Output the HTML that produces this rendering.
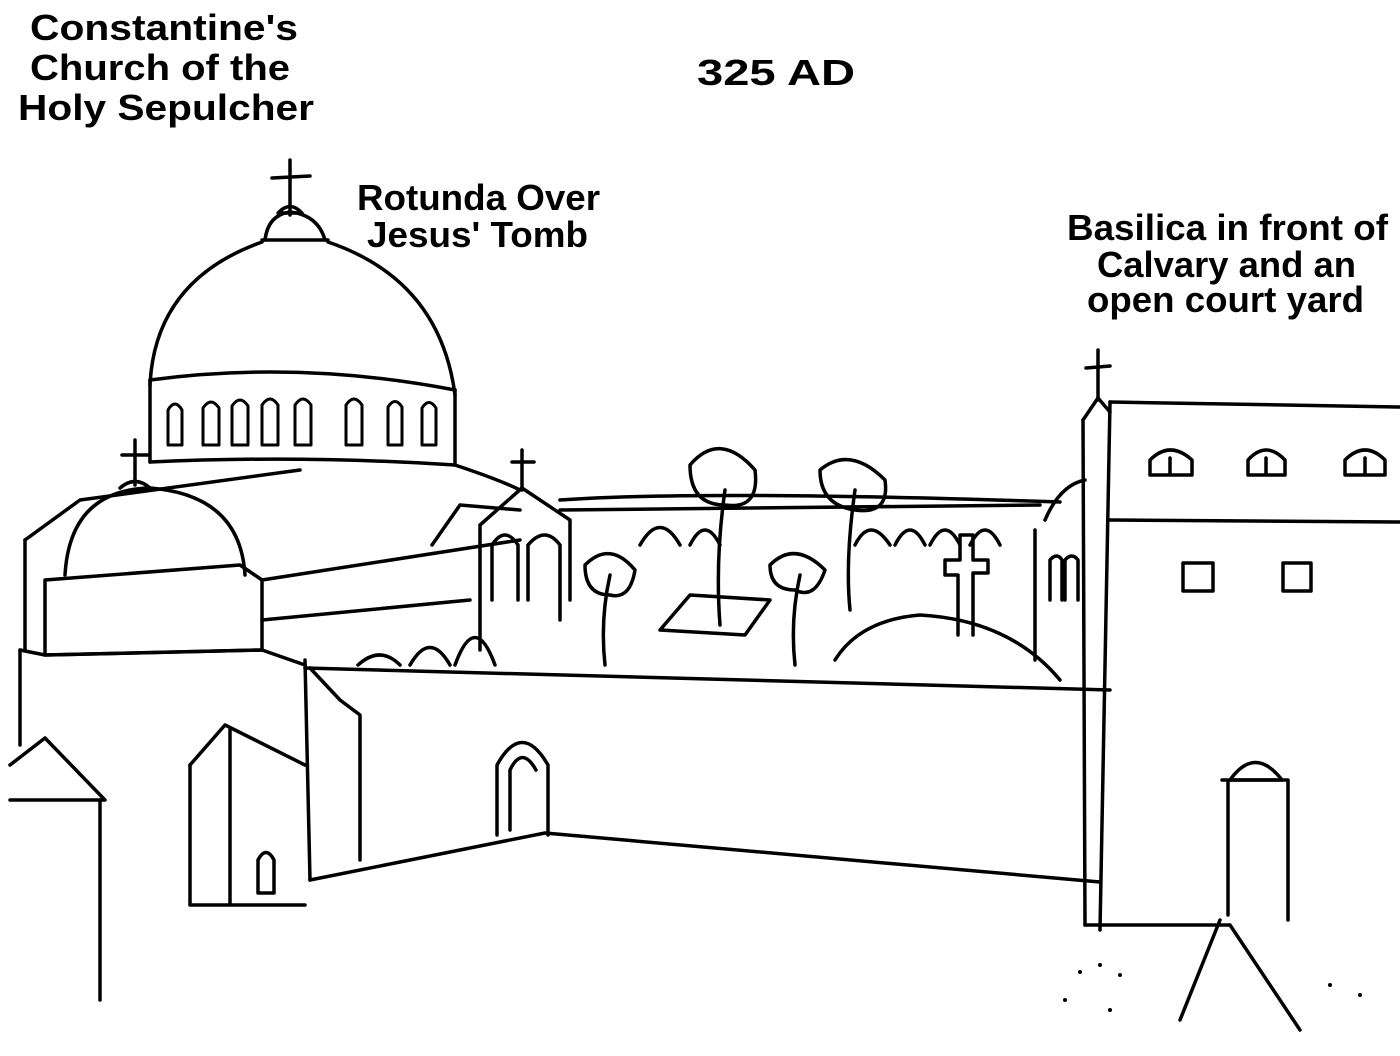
<!DOCTYPE html>
<html><head><meta charset="utf-8"><style>
html,body{margin:0;padding:0;background:#fff;}
svg{display:block;}
text{font-family:"Liberation Sans",sans-serif;font-weight:bold;font-size:36px;fill:#000;}
</style></head><body>
<svg width="1400" height="1056" viewBox="0 0 1400 1056" xmlns="http://www.w3.org/2000/svg">
<g>
<text x="30" y="40" textLength="268" lengthAdjust="spacingAndGlyphs">Constantine's</text>
<text x="30" y="80" textLength="260" lengthAdjust="spacingAndGlyphs">Church of the</text>
<text x="18" y="120" textLength="296" lengthAdjust="spacingAndGlyphs">Holy Sepulcher</text>
<text x="697" y="85" textLength="158" lengthAdjust="spacingAndGlyphs">325 AD</text>
<text x="357" y="210" textLength="243" lengthAdjust="spacingAndGlyphs">Rotunda Over</text>
<text x="367" y="247" textLength="221" lengthAdjust="spacingAndGlyphs">Jesus' Tomb</text>
<text x="1067" y="240" textLength="321" lengthAdjust="spacingAndGlyphs">Basilica in front of</text>
<text x="1097" y="277" textLength="259" lengthAdjust="spacingAndGlyphs">Calvary and an</text>
<text x="1087" y="312" textLength="277" lengthAdjust="spacingAndGlyphs">open court yard</text>
</g>
<g fill="none" stroke="#000" stroke-width="3.5" stroke-linecap="round" stroke-linejoin="round">
<line x1="290" y1="160" x2="290" y2="215"/><line x1="272" y1="178" x2="310" y2="176"/>
<path d="M278 213 Q290 200 302 213 Z"/>
<path d="M265 240 Q268 215 290 212 Q318 215 325 240"/>
<line x1="262" y1="240" x2="328" y2="240"/>
<path d="M150 385 Q155 280 262 242 M328 242 Q440 280 455 395"/>
<path d="M150 380 Q300 360 455 390"/>
<line x1="150" y1="380" x2="150" y2="462"/><line x1="455" y1="390" x2="455" y2="465"/>
<path d="M150 462 Q300 455 455 465"/>
<g stroke-width="3">
<path d="M168 445 V410 Q175 398 182 410 V445 Z"/>
<path d="M203 445 V408 Q211 396 219 408 V445 Z"/>
<path d="M232 445 V406 Q240 394 248 406 V445 Z"/>
<path d="M262 445 V405 Q270 393 278 405 V445 Z"/>
<path d="M295 445 V405 Q303 393 311 405 V445 Z"/>
<path d="M346 445 V405 Q354 393 362 405 V445 Z"/>
<path d="M388 445 V407 Q395 396 402 407 V445 Z"/>
<path d="M422 445 V408 Q429 397 436 408 V445 Z"/>
</g>
<path d="M455 465 Q500 480 520 490"/>
<path d="M25 540 L80 500 L300 470"/>
<path d="M25 540 L25 650"/>
<line x1="262" y1="580" x2="520" y2="540"/>
<line x1="262" y1="620" x2="470" y2="600"/>
<line x1="135" y1="440" x2="135" y2="485"/><line x1="122" y1="455" x2="148" y2="455"/>
<path d="M120 488 Q135 475 150 488"/>
<path d="M65 575 Q70 490 150 488 Q240 495 245 575"/>
<path d="M45 580 L240 565 L262 580 L262 650 L45 655 Z"/>
<path d="M20 650 L45 655 L262 650 L305 665"/>
<line x1="20" y1="650" x2="20" y2="745"/>
<line x1="305" y1="660" x2="310" y2="880"/>
<path d="M10 765 L45 738 L105 800 L10 800"/>
<line x1="100" y1="800" x2="100" y2="1000"/>
<path d="M190 765 L225 725 L305 765"/>
<path d="M190 765 V905 M230 730 V905 M190 905 H305"/>
<path d="M258 893 V860 Q266 845 274 860 V893 Z"/>
<path d="M310 668 L340 700 L360 715 L360 860"/>
<path d="M358 665 Q380 645 400 665 M410 665 Q430 630 450 665 M455 665 Q475 610 495 665"/>
<line x1="522" y1="450" x2="522" y2="490"/><line x1="512" y1="462" x2="534" y2="462"/>
<path d="M480 525 L522 488 L570 520 L570 600 M480 525 L480 650"/>
<path d="M432 545 L460 505 L520 510"/>
<path d="M492 600 V545 Q505 525 518 545 V600 M528 600 V545 Q545 525 560 545 V620"/>
<path d="M305 668 L1110 690"/>
<path d="M310 880 L545 833 L1100 882"/>
<path d="M497 835 V765 Q522 720 548 765 V835"/>
<path d="M510 830 V770 Q522 745 536 770"/>
<path d="M560 510 L1040 505"/>
<path d="M560 500 Q700 490 1060 502"/>
<path d="M640 545 Q660 510 680 545 M690 545 Q705 515 720 545 M855 545 Q870 515 890 545 M895 545 Q910 515 925 545 M930 545 Q945 515 960 545 M970 545 Q985 515 1000 545"/>
<path d="M660 630 L690 595 L770 600 L745 635 Z"/>
<path d="M835 660 Q860 620 920 615 Q1010 620 1060 680"/>
<path d="M958 635 V575 H945 V560 H960 V535 H973 V560 H988 V573 H973 V635"/>
<path d="M720 625 Q715 560 725 490 M850 610 Q845 560 855 490 M795 665 Q790 620 800 575 M605 665 Q600 620 610 575"/>
<path d="M690 465 Q720 430 755 470 Q760 510 725 505 Q690 505 690 465 Z"/>
<path d="M820 470 Q850 445 885 480 Q890 515 855 510 Q820 505 820 470 Z"/>
<path d="M770 565 Q795 540 825 570 Q815 600 795 590 Q770 590 770 565 Z"/>
<path d="M585 565 Q610 540 635 570 Q630 600 610 595 Q585 595 585 565 Z"/>
<path d="M1045 520 Q1060 485 1085 480 M1035 530 L1035 660 M1050 600 V560 Q1057 552 1062 560 V600 M1065 600 V560 Q1072 552 1078 560 V600"/>
<line x1="1098" y1="350" x2="1098" y2="400"/><line x1="1086" y1="368" x2="1110" y2="366"/>
<path d="M1083 420 L1098 398 L1110 412"/>
<line x1="1083" y1="420" x2="1085" y2="925"/>
<line x1="1110" y1="402" x2="1100" y2="930"/>
<path d="M1110 402 L1400 407"/>
<path d="M1110 520 L1400 522"/>
<path d="M1150 475 V460 Q1170 440 1192 460 V475 Z M1170 475 V458"/>
<path d="M1248 475 V460 Q1266 440 1285 460 V475 Z M1266 475 V458"/>
<path d="M1345 475 V460 Q1365 440 1385 460 V475 Z M1365 475 V458"/>
<rect x="1183" y="563" width="30" height="28"/>
<rect x="1283" y="563" width="28" height="28"/>
<path d="M1230 780 Q1255 745 1282 780 Z"/>
<path d="M1222 780 H1288 V920 M1228 780 V915"/>
<path d="M1220 920 L1180 1020 M1230 925 L1300 1030 M1085 925 L1230 925"/>
</g>
<g fill="#000">
<circle cx="1080" cy="972" r="2"/><circle cx="1100" cy="965" r="2"/><circle cx="1120" cy="975" r="2"/>
<circle cx="1065" cy="1000" r="2"/><circle cx="1110" cy="1010" r="2"/><circle cx="1330" cy="985" r="2"/><circle cx="1360" cy="995" r="2"/>
</g>
</svg>
</body></html>
